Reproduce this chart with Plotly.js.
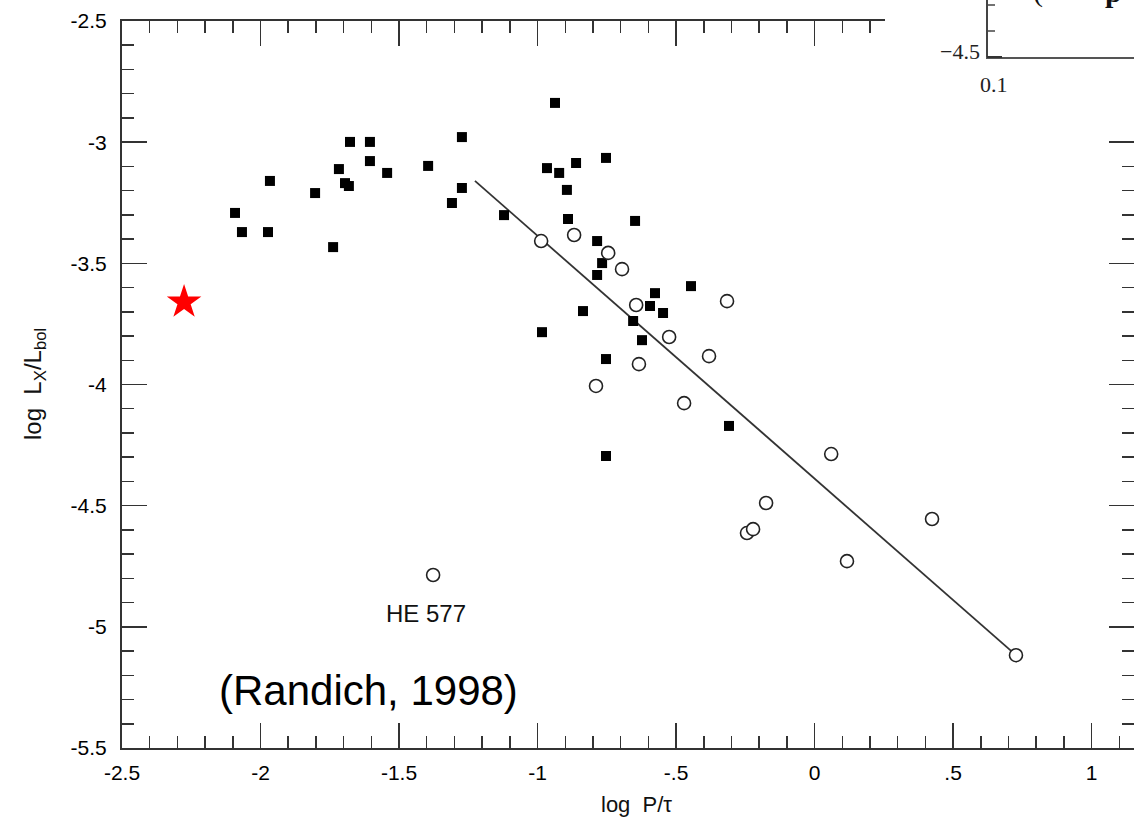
<!DOCTYPE html>
<html><head><meta charset="utf-8">
<script src="https://cdn.plot.ly/plotly-3.0.1.min.js"></script>
<style>html,body{margin:0;padding:0;background:#fff;}#chart{width:1134px;height:823px;}</style>
</head><body><div id="chart"></div>
<script>
// Filled squares
const filledX = [-2.092,-2.067,-1.973,-1.966,-1.803,-1.738,-1.717,-1.695,-1.681,-1.677,
                 -1.605,-1.605,-1.543,-1.395,-1.273,-1.273,-1.309,-1.121,-0.937,-0.966,
                 -0.922,-0.861,-0.753,-0.894,-0.890,-0.648,-0.785,-0.767,-0.785,-0.576,
                 -0.446,-0.594,-0.547,-0.655,-0.836,-0.984,-0.623,-0.753,-0.309,-0.753];
const filledY = [-3.292,-3.371,-3.371,-3.160,-3.210,-3.433,-3.111,-3.169,-3.181,-2.999,
                 -2.999,-3.078,-3.127,-3.098,-2.979,-3.189,-3.251,-3.301,-2.838,-3.107,
                 -3.127,-3.086,-3.065,-3.197,-3.317,-3.325,-3.408,-3.499,-3.548,-3.623,
                 -3.594,-3.676,-3.705,-3.738,-3.697,-3.784,-3.817,-3.895,-4.171,-4.295];
// Open circles
const openX = [-1.377,-0.987,-0.868,-0.745,-0.695,-0.644,-0.316,-0.525,-0.381,-0.634,
               -0.789,-0.471,0.060,-0.175,-0.244,-0.222,0.117,0.424,0.727];
const openY = [-4.786,-3.408,-3.383,-3.457,-3.524,-3.672,-3.656,-3.804,-3.883,-3.916,
               -4.006,-4.077,-4.287,-4.489,-4.613,-4.597,-4.729,-4.555,-5.117];
// Regression line end points
const fitX = [-1.226, 0.727];
const fitY = [-3.160, -5.117];
// Red star
const starX = [-2.276];
const starY = [-3.660];
// Ticks
const xTickVals = [-2.5,-2,-1.5,-1,-0.5,0,0.5,1];
const xTickText = ['-2.5','-2','-1.5','-1','-.5','0','.5','1'];
const yTickVals = [-2.5,-3,-3.5,-4,-4.5,-5,-5.5];
const yTickText = ['-2.5','-3','-3.5','-4','-4.5','-5','-5.5'];
// Labels
const xTitle = 'log&#160;&#160;P/τ';
const yTitle = 'log&#160;&#160;L<sub>X</sub>/L<sub>bol</sub>';
const heLabel = {text:'HE 577', x:-1.403, y:-4.947};
const refLabel = {text:'(Randich, 1998)', x:-1.612, y:-5.261};

const W = 1134, H = 823, ML = 122, MR = 0, MT = 21, MB = 75;
const PW = W - ML - MR, PH = H - MT - MB;
const px = v => (v - ML) / PW;
const py = v => (H - MB - v) / PH;

const axCol = '#333';
const sans = 'Liberation Sans, Arial, sans-serif';
const serif = 'Liberation Serif, Times New Roman, serif';
const tickFont = {family:sans, size:21, color:'#000'};

const traces = [
  {x:fitX, y:fitY, mode:'lines', line:{color:'#333', width:1.8}, hoverinfo:'skip', showlegend:false},
  {x:filledX, y:filledY, mode:'markers', marker:{symbol:'square', size:10, color:'#000'}, showlegend:false},
  {x:openX, y:openY, mode:'markers', marker:{symbol:'circle', size:13, color:'#fff', line:{color:'#222', width:1.6}}, showlegend:false},
  {x:starX, y:starY, mode:'markers', marker:{symbol:'star', size:26, color:'#ff0000', line:{width:0}}, showlegend:false}
];

const layout = {
  width:W, height:H,
  margin:{l:ML, r:MR, t:MT, b:MB, pad:0},
  paper_bgcolor:'#fff', plot_bgcolor:'#fff',
  showlegend:false,
  xaxis:{
    range:[-2.5, 1.153], tickvals:xTickVals, ticktext:xTickText,
    ticks:'inside', ticklen:25, tickwidth:1.5, tickcolor:axCol,
    showline:true, linewidth:2, linecolor:axCol, mirror:'allticks',
    showgrid:false, zeroline:false, tickfont:tickFont, ticklabelstandoff:5,
    minor:{dtick:0.1, ticks:'inside', ticklen:12, tickwidth:1.5, tickcolor:axCol, showgrid:false}
  },
  yaxis:{
    range:[-5.5, -2.5], tickvals:yTickVals, ticktext:yTickText,
    ticks:'inside', ticklen:25, tickwidth:1.5, tickcolor:axCol,
    showline:true, linewidth:2, linecolor:axCol, mirror:'allticks',
    showgrid:false, zeroline:false, tickfont:tickFont, ticklabelstandoff:9,
    minor:{dtick:0.1, ticks:'inside', ticklen:12, tickwidth:1.5, tickcolor:axCol, showgrid:false}
  },
  shapes:[
    // inset cover
    {type:'rect', xref:'paper', yref:'paper', x0:px(885), x1:px(1145), y0:py(128), y1:py(-10), fillcolor:'#fff', line:{width:0}, layer:'above'},
    {type:'line', xref:'paper', yref:'paper', x0:px(987), x1:px(987), y0:py(-5), y1:py(58), line:{color:'#444', width:2}, layer:'above'},
    {type:'line', xref:'paper', yref:'paper', x0:px(986), x1:px(1145), y0:py(58), y1:py(58), line:{color:'#555', width:2}, layer:'above'},
    {type:'line', xref:'paper', yref:'paper', x0:px(987), x1:px(995), y0:py(5), y1:py(5), line:{color:'#444', width:1.5}, layer:'above'},
    {type:'line', xref:'paper', yref:'paper', x0:px(987), x1:px(995), y0:py(31), y1:py(31), line:{color:'#444', width:1.5}, layer:'above'},
    {type:'line', xref:'paper', yref:'paper', x0:px(987), x1:px(1002), y0:py(57), y1:py(57), line:{color:'#333', width:2}, layer:'above'}
  ],
  annotations:[
    {xref:'paper', yref:'paper', x:px(34), y:py(384), text:yTitle, textangle:-90, showarrow:false,
     xanchor:'center', yanchor:'middle', font:{family:sans, size:24, color:'#111'}},
    {xref:'paper', yref:'paper', x:px(636), y:py(804), text:xTitle, showarrow:false,
     xanchor:'center', yanchor:'middle', font:{family:sans, size:22, color:'#111'}},
    {xref:'x', yref:'y', x:heLabel.x, y:heLabel.y, text:heLabel.text, showarrow:false,
     xanchor:'center', yanchor:'middle', font:{family:sans, size:24, color:'#111'}},
    {xref:'x', yref:'y', x:refLabel.x, y:refLabel.y, text:refLabel.text, showarrow:false,
     xanchor:'center', yanchor:'middle', font:{family:sans, size:42, color:'#000'}},
    {xref:'paper', yref:'paper', x:px(982), y:py(52), text:'−4.5', showarrow:false,
     xanchor:'right', yanchor:'middle', font:{family:serif, size:22, color:'#222'}},
    {xref:'paper', yref:'paper', x:px(994), y:py(84), text:'0.1', showarrow:false,
     xanchor:'center', yanchor:'middle', font:{family:serif, size:22, color:'#222'}},
    {xref:'paper', yref:'paper', x:px(1038), y:py(10), text:'(', showarrow:false,
     xanchor:'center', yanchor:'bottom', font:{family:serif, size:30, color:'#111'}},
    {xref:'paper', yref:'paper', x:px(1113), y:py(10), text:'<b>p</b>', showarrow:false,
     xanchor:'center', yanchor:'bottom', font:{family:serif, size:30, color:'#111'}}
  ]
};

Plotly.newPlot('chart', traces, layout, {displayModeBar:false, staticPlot:true});
</script>
</body></html>
